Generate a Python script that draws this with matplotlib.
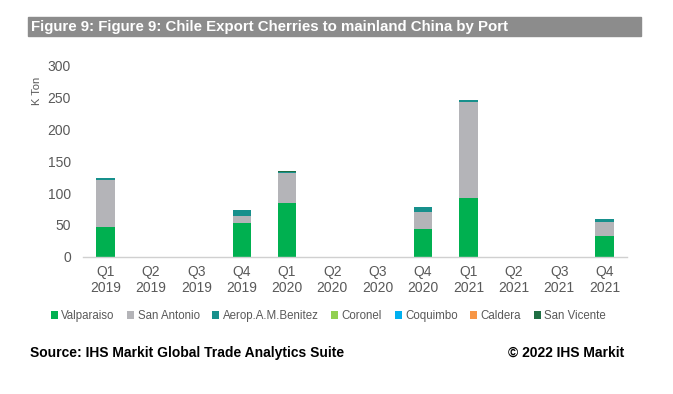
import matplotlib
matplotlib.use("Agg")
import matplotlib.pyplot as plt
import numpy as np
from matplotlib.patches import Rectangle

quarters = ["Q1\n2019", "Q2\n2019", "Q3\n2019", "Q4\n2019",
            "Q1\n2020", "Q2\n2020", "Q3\n2020", "Q4\n2020",
            "Q1\n2021", "Q2\n2021", "Q3\n2021", "Q4\n2021"]
series_names = ["Valparaiso", "San Antonio", "Aerop.A.M.Benitez", "Coronel",
                "Coquimbo", "Caldera", "San Vicente"]
valparaiso   = [46, 0, 0, 53, 85, 0, 0, 44, 93, 0, 0, 32]
san_antonio  = [75, 0, 0, 11, 47, 0, 0, 26, 150, 0, 0, 22]
aerop        = [3, 0, 0, 9, 1, 0, 0, 8, 3, 0, 0, 5]
coronel      = [0, 0, 0, 0, 0, 0, 0, 0, 0, 0, 0, 0]
coquimbo     = [0, 0, 0, 0, 0, 0, 0, 0, 0.5, 0, 0, 0]
caldera      = [0, 0, 0, 0, 0, 0, 0, 0, 0, 0, 0, 0]
san_vicente  = [0, 0, 0, 0, 2, 0, 0, 0, 0, 0, 0, 0]
colors = ["#00B050", "#B4B4B8", "#17908C", "#92D050", "#00B0F0", "#F79646", "#1F6E43"]

data = [valparaiso, san_antonio, aerop, coronel, coquimbo, caldera, san_vicente]

plt.rcParams['font.family'] = ['Liberation Sans', 'DejaVu Sans']
fig = plt.figure(figsize=(6.73, 3.94), dpi=100)
ax = fig.add_axes([0.123, 0.3485, 0.809, 0.4845])

x = np.arange(len(quarters))
bottom = np.zeros(len(quarters))
for name, vals, c in zip(series_names, data, colors):
    v = np.array(vals, dtype=float)
    ax.bar(x, v, 0.4, bottom=bottom, color=c, label=name, linewidth=0)
    bottom += v

ax.set_xlim(-0.5, len(quarters) - 0.5)
ax.set_ylim(0, 300)
ax.set_yticks(range(0, 301, 50))
ax.set_xticks(x)
ax.set_xticklabels(quarters)
ax.tick_params(axis='both', length=0, labelsize=10, colors='#595959')
ax.tick_params(axis='x', pad=6)
ax.tick_params(axis='y', pad=8.5)
for s in ['top', 'right', 'left']:
    ax.spines[s].set_visible(False)
ax.spines['bottom'].set_color('#D0D0D0')
ax.spines['bottom'].set_linewidth(1.0)

fig.text(37/673, 1 - 91/394, "K Ton", rotation=90, fontsize=8, color='#595959',
         ha='center', va='center')

# Title bar
fig.patches.append(Rectangle((28/673, 1 - 36/394), (641 - 28)/673, 19/394,
                             transform=fig.transFigure, color='#8C8C8C', zorder=0))
fig.text(31/673, 1 - 26.5/394, "Figure 9: Figure 9: Chile Export Cherries to mainland China by Port",
         fontsize=10.8, fontweight='bold', color='white',
         va='center', ha='left')

leg = fig.legend(loc='center', bbox_to_anchor=(0.488, 1 - 316/394), ncol=7, frameon=False,
                 fontsize=8.3, handlelength=0.6, handleheight=0.6, handletextpad=0.3,
                 columnspacing=1.1, labelcolor='#595959')

fig.text(30/673, 1 - 353/394, "Source: IHS Markit Global Trade Analytics Suite",
         fontsize=10, fontweight='bold', color='black', va='center', ha='left')
fig.text(624/673, 1 - 353/394, "© 2022 IHS Markit",
         fontsize=10, fontweight='bold', color='black', va='center', ha='right')

fig.savefig("out.png", dpi=100, facecolor='white')
